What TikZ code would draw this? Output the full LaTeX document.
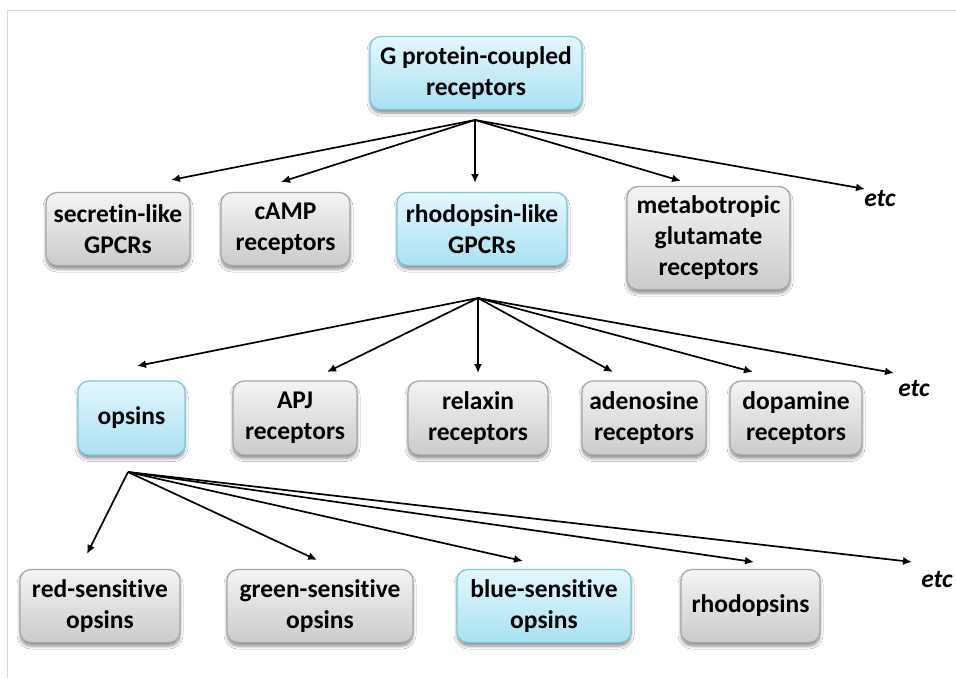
\documentclass[tikz,border=0pt]{standalone}
\usepackage{fontspec}
\setmainfont{Carlito}[Ligatures=NoCommon]
\usetikzlibrary{arrows.meta,shadows.blur}

\definecolor{bluetop}{HTML}{E4F7FD}
\definecolor{bluebottom}{HTML}{A9E1F2}
\definecolor{blueedge}{HTML}{7EC9DF}
\definecolor{graytop}{HTML}{F4F4F4}
\definecolor{graybottom}{HTML}{CBCBCB}
\definecolor{grayedge}{HTML}{A8A8A8}

\tikzset{
  box/.style={rounded corners=11pt, line width=1.3pt, inner sep=0pt,
    align=center, font=\fontsize{25.5}{31}\selectfont\bfseries,
    minimum height=73pt,
    blur shadow={shadow xshift=0pt, shadow yshift=-3.5pt, shadow blur steps=6,
                 shadow blur radius=3pt, shadow opacity=45}},
  graybox/.style={box, draw=grayedge, top color=graytop, bottom color=graybottom},
  bluebox/.style={box, draw=blueedge, top color=bluetop, bottom color=bluebottom},
  etclabel/.style={font=\fontsize{25.5}{30}\selectfont\bfseries\itshape, inner sep=0pt},
  link/.style={line width=1.7pt, -{Latex[length=9pt,width=8pt]}},
  frame/.style={line width=1pt, draw=black!15}
}

\begin{document}
\begin{tikzpicture}[x=1pt,y=-1pt]
  \useasboundingbox (0,0) rectangle (956,678);
  \fill[white] (0,0) rectangle (956,678);
  \draw[frame] (7,678) -- (7,10) -- (956,10);

  % top level
  \node[bluebox, minimum width=212pt] (gpcr) at (476,73) {G protein-coupled\\receptors};

  % families
  \node[graybox, minimum width=144pt] (secretin) at (118,229) {secretin-like\\GPCRs};
  \node[graybox, minimum width=129pt] (camp) at (285.5,229) {cAMP\\receptors};
  \node[bluebox, minimum width=170pt] (rhodlike) at (482,229) {rhodopsin-like\\GPCRs};
  \node[graybox, minimum width=163pt, minimum height=103pt] (metab) at (708.5,238) {metabotropic\\glutamate\\receptors};
  \node[etclabel] (etcA) at (880,199) {etc};

  % rhodopsin-like receptors
  \node[bluebox, minimum width=107pt, minimum height=74pt] (opsins) at (131.5,418) {opsins};
  \node[graybox, minimum width=124pt, minimum height=74pt] (apj) at (295,418) {APJ\\receptors};
  \node[graybox, minimum width=140pt, minimum height=74pt] (relaxin) at (478,418) {relaxin\\receptors};
  \node[graybox, minimum width=124pt, minimum height=74pt] (adenosine) at (644,418) {adenosine\\receptors};
  \node[graybox, minimum width=132pt, minimum height=74pt] (dopamine) at (796,418) {dopamine\\receptors};
  \node[etclabel] (etcB) at (914,389) {etc};

  % opsins
  \node[graybox, minimum width=160pt] (red) at (100,606) {red-sensitive\\opsins};
  \node[graybox, minimum width=186pt] (green) at (320,606) {green-sensitive\\opsins};
  \node[bluebox, minimum width=174pt] (blue) at (544,606) {blue-sensitive\\opsins};
  \node[graybox, minimum width=139pt] (rhodopsins) at (750.5,606) {rhodopsins};
  \node[etclabel] (etcC) at (937,580) {etc};

  % branching points and arrow tips
  \coordinate (hubA) at (475,120);
  \coordinate (hubB) at (478,298);
  \coordinate (hubC) at (128,472);

  \coordinate (tSecretin) at (171,180);
  \coordinate (tCamp) at (281,182);
  \coordinate (tRhodlike) at (475,183);
  \coordinate (tMetab) at (681,181);
  \coordinate (tEtcA) at (865,189);

  \coordinate (tOpsins) at (137,366);
  \coordinate (tApj) at (327,372);
  \coordinate (tRelaxin) at (478,373);
  \coordinate (tAdenosine) at (613,372);
  \coordinate (tDopamine) at (753,372);
  \coordinate (tEtcB) at (894,373);

  \coordinate (tRed) at (87,554);
  \coordinate (tGreen) at (317,560);
  \coordinate (tBlue) at (523,561);
  \coordinate (tRhodopsins) at (754,562);
  \coordinate (tEtcC) at (912,562);

  \foreach \t in {tSecretin,tCamp,tRhodlike,tMetab,tEtcA}
    \draw[link] (hubA) -- (\t);
  \foreach \t in {tOpsins,tApj,tRelaxin,tAdenosine,tDopamine,tEtcB}
    \draw[link] (hubB) -- (\t);
  \foreach \t in {tRed,tGreen,tBlue,tRhodopsins,tEtcC}
    \draw[link] (hubC) -- (\t);
\end{tikzpicture}
\end{document}
